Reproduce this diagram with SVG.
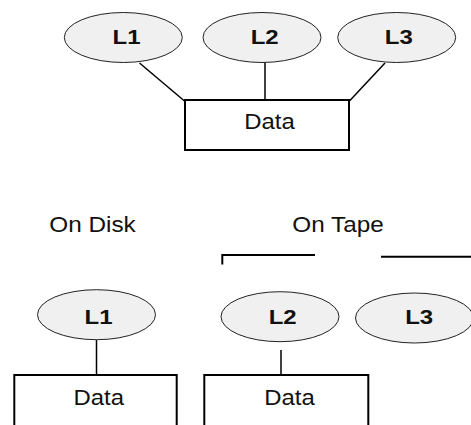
<svg xmlns="http://www.w3.org/2000/svg" width="471" height="425" viewBox="0 0 471 425">
<style>
.el{fill:#f0f0f0;stroke:#222;stroke-width:1}
.bx{fill:#fff;stroke:#000;stroke-width:2}
.lb{font-family:"Liberation Sans",Arial,sans-serif;font-weight:bold;font-size:21px;fill:#111;text-anchor:middle}
.tx{font-family:"Liberation Sans",Arial,sans-serif;font-size:22.5px;fill:#111;text-anchor:middle}
.cn{stroke:#000;stroke-width:1.5;fill:none}
.br{stroke:#000;stroke-width:2;fill:none}
</style>
<rect width="471" height="425" fill="#fff"/>
<g id="connectors">
<line class="cn" x1="139.5" y1="63" x2="184.5" y2="101"/>
<line class="cn" x1="265" y1="62" x2="265" y2="99"/>
<line class="cn" x1="385" y1="63" x2="348.5" y2="102"/>
<line class="cn" x1="96.5" y1="340" x2="96.5" y2="374"/>
<line class="cn" x1="281" y1="350" x2="281" y2="374"/>
</g>
<g id="top-L1"><ellipse class="el" cx="123.3" cy="37.5" rx="59" ry="25"/><text class="lb" x="126.5" y="43.5" textLength="28" lengthAdjust="spacingAndGlyphs">L1</text></g>
<g id="top-L2"><ellipse class="el" cx="262" cy="37.5" rx="59" ry="25"/><text class="lb" x="264.7" y="43.5" textLength="28" lengthAdjust="spacingAndGlyphs">L2</text></g>
<g id="top-L3"><ellipse class="el" cx="396.7" cy="37.5" rx="59" ry="25"/><text class="lb" x="398.8" y="43.5" textLength="28" lengthAdjust="spacingAndGlyphs">L3</text></g>
<g id="top-Data"><rect class="bx" x="185" y="100" width="164" height="50"/><text class="tx" x="269.5" y="129" textLength="50.5" lengthAdjust="spacingAndGlyphs">Data</text></g>
<g id="label-disk"><text class="tx" x="92.5" y="232.3" textLength="86.5" lengthAdjust="spacingAndGlyphs">On Disk</text></g>
<g id="label-tape"><text class="tx" x="338" y="232.3" textLength="91.5" lengthAdjust="spacingAndGlyphs">On Tape</text></g>
<g id="tape-brackets">
<path class="br" d="M222.3,264.5 V255 H315"/>
<path class="br" d="M381,256.7 H471"/>
</g>
<g id="bottom-L1"><ellipse class="el" cx="96.5" cy="314.7" rx="59" ry="25"/><text class="lb" x="98.5" y="324" textLength="28" lengthAdjust="spacingAndGlyphs">L1</text></g>
<g id="bottom-L2"><ellipse class="el" cx="280" cy="316.7" rx="59" ry="25"/><text class="lb" x="282.7" y="324.3" textLength="28" lengthAdjust="spacingAndGlyphs">L2</text></g>
<g id="bottom-L3"><ellipse class="el" cx="414.5" cy="318" rx="59" ry="25"/><text class="lb" x="419.2" y="324.3" textLength="28" lengthAdjust="spacingAndGlyphs">L3</text></g>
<g id="bottom-Data1"><path class="bx" d="M14.3,426 V375 H176.7 V426"/><text class="tx" x="98.7" y="405" textLength="50.5" lengthAdjust="spacingAndGlyphs">Data</text></g>
<g id="bottom-Data2"><path class="bx" d="M204.3,426 V375 H368.3 V426"/><text class="tx" x="289.5" y="405" textLength="50.5" lengthAdjust="spacingAndGlyphs">Data</text></g>
</svg>
